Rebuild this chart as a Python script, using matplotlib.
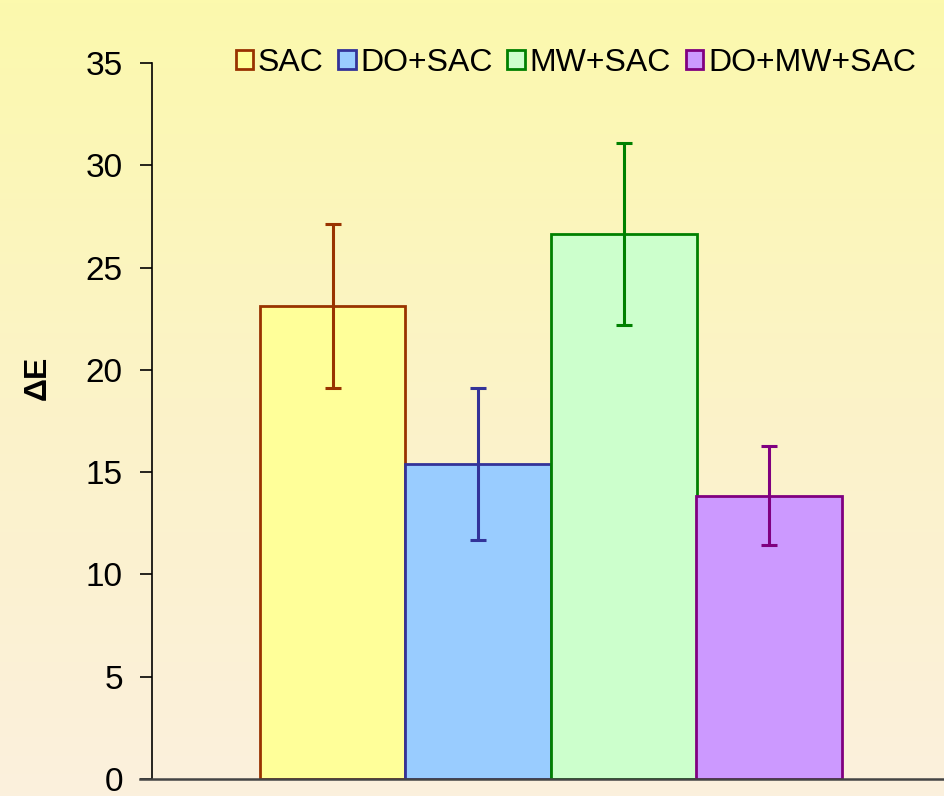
import numpy as np
import matplotlib.pyplot as plt
from matplotlib.colors import LinearSegmentedColormap

plt.rcParams['font.family'] = ['Liberation Sans', 'DejaVu Sans']

groups = ['SAC', 'DO+SAC', 'MW+SAC', 'DO+MW+SAC']
delta_e = [23.12, 15.40, 26.64, 13.85]
err = [4.0, 3.7, 4.44, 2.41]
fills = ['#FFFF99', '#99CCFF', '#CCFFCC', '#CC99FF']
edges = ['#993300', '#333399', '#008000', '#800080']

fig = plt.figure(figsize=(9.44, 7.96), dpi=100)

# background gradient
bg = fig.add_axes([0, 0, 1, 1], zorder=-1)
cmap = LinearSegmentedColormap.from_list('bg', ['#FCF9AD', '#FBF3C8', '#FBF0DD'])
bg.imshow(np.linspace(0, 1, 256).reshape(-1, 1), aspect='auto', cmap=cmap,
          extent=[0, 1, 0, 1])
bg.axis('off')

ax = fig.add_axes([152/944, 1 - 779/796, 1 - 152/944, 716/796])
ax.patch.set_alpha(0)

x = np.arange(len(groups))
for i in range(len(groups)):
    ax.bar(x[i], delta_e[i], width=1.0, color=fills[i], edgecolor=edges[i],
           linewidth=2, label=groups[i], zorder=2)
    ax.errorbar(x[i], delta_e[i], yerr=err[i], color=edges[i], elinewidth=2.2,
                capsize=5.5, capthick=2.2, zorder=3)

ax.set_xlim(-1.24, 4.2)
ax.set_ylim(0, 35)
ax.set_yticks(np.arange(0, 36, 5))
ax.set_xticks([])
ax.tick_params(axis='y', direction='out', length=9, width=1.2, labelsize=24, pad=12)
for s in ['top', 'right']:
    ax.spines[s].set_visible(False)
ax.spines['left'].set_linewidth(1.2)
ax.spines['bottom'].set_linewidth(1.8)
ax.spines['bottom'].set_color('#444444')
ax.spines['bottom'].set_bounds(-1.32, 4.2)
ax.spines['bottom'].set_clip_on(False)

ax.set_ylabel('ΔE', fontsize=23, fontweight='bold')
ax.yaxis.set_label_coords(-0.125, 0.561)

leg = ax.legend(loc='center', bbox_to_anchor=(0.535, 1.0), ncol=4, frameon=False,
                fontsize=23, handlelength=0.55, handleheight=0.55, handletextpad=0.15,
                columnspacing=0.45, borderaxespad=0)

fig.savefig('out.png', dpi=100)
